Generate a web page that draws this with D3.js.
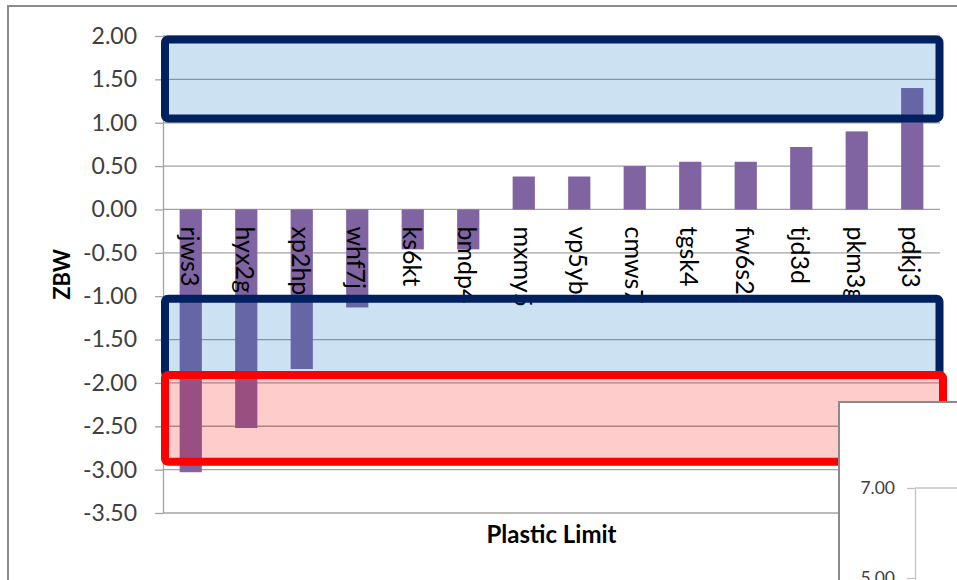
<!DOCTYPE html>
<html>
<head>
<meta charset="utf-8">
<script src="https://cdn.jsdelivr.net/npm/d3@7"></script>
<style>
  body { margin: 0; background: #fff; }
  svg { display: block; }
</style>
</head>
<body>
<svg id="chart" width="957" height="580"></svg>
<script>
// Samples along the x axis and their ZBW scores
const categories = ["rjws3", "hyx2g", "xp2hp", "whf7j", "ks6kt", "bmdp4", "mxmy5",
                    "vp5yb", "cmws7", "tgsk4", "fw6s2", "tjd3d", "pkm3g", "pdkj3"];
const zbwValues = [-3.03, -2.52, -1.84, -1.13, -0.46, -0.46, 0.38,
                   0.38, 0.50, 0.55, 0.55, 0.72, 0.90, 1.40];
const yTicks = [2, 1.5, 1, 0.5, 0, -0.5, -1, -1.5, -2, -2.5, -3, -3.5];

// Highlighted score ranges (low, high) and their kind
const bandLows = [1.05, -1.91, -2.91];
const bandHighs = [1.96, -1.03, -1.91];
const bandKinds = ["blue", "blue", "red"];

// Tick values of the second chart peeking in at the lower right
const insetTicks = [7, 5];

const svg = d3.select("#chart");
const FONT = "Lato, 'Open Sans', sans-serif";

const plot = { left: 163, right: 940, top: 36, bottom: 513 };

const x = d3.scaleBand()
  .domain(categories)
  .range([plot.left, plot.right])
  .paddingInner(0.6)
  .paddingOuter(0.3);

const y = d3.scaleLinear()
  .domain([-3.5, 2])
  .range([plot.bottom, plot.top]);

// Horizontal gridlines
svg.append("g")
  .selectAll("line")
  .data(yTicks)
  .join("line")
  .attr("x1", plot.left)
  .attr("x2", plot.right)
  .attr("y1", d => y(d))
  .attr("y2", d => y(d))
  .attr("stroke", "#a3a3a3")
  .attr("stroke-width", 1.3);

// Y axis
const yAxis = svg.append("g")
  .attr("transform", `translate(${plot.left},0)`)
  .call(d3.axisLeft(y)
    .tickValues(yTicks)
    .tickSize(8)
    .tickSizeOuter(0)
    .tickPadding(18)
    .tickFormat(d => d.toFixed(2)));
yAxis.select(".domain").attr("stroke", "#a3a3a3").attr("stroke-width", 1.3);
yAxis.selectAll(".tick line").attr("stroke", "#a3a3a3").attr("stroke-width", 1.3);
yAxis.selectAll(".tick text")
  .attr("font-family", FONT)
  .attr("font-size", 23)
  .attr("fill", "#404040");

// Bars
const data = categories.map((c, i) => ({ name: c, value: zbwValues[i] }));
svg.append("g")
  .selectAll("rect")
  .data(data)
  .join("rect")
  .attr("x", d => x(d.name))
  .attr("width", x.bandwidth())
  .attr("y", d => y(Math.max(0, d.value)))
  .attr("height", d => Math.abs(y(d.value) - y(0)))
  .attr("fill", "#8064a2");

// Category labels, rotated, just under the zero line
svg.append("g")
  .selectAll("text")
  .data(data)
  .join("text")
  .attr("transform", d => `translate(${x(d.name) + x.bandwidth() / 2},${y(0) + 17}) rotate(90)`)
  .attr("dominant-baseline", "central")
  .attr("font-family", FONT)
  .attr("font-size", 25)
  .attr("fill", "#000")
  .text(d => d.name);

// Highlight bands over the plot
const bandStyle = {
  blue: { fill: "#0070c0", stroke: "#002060", right: plot.right - 0.5 },
  red: { fill: "#ff0000", stroke: "#ff0000", right: plot.right + 3 }
};
const bands = bandLows.map((lo, i) => ({ lo, hi: bandHighs[i], kind: bandKinds[i] }));
const bandG = svg.append("g");
bandG.selectAll("rect.fill")
  .data(bands)
  .join("rect")
  .attr("class", "fill")
  .attr("x", plot.left + 2)
  .attr("y", d => y(d.hi))
  .attr("width", d => bandStyle[d.kind].right - plot.left - 2)
  .attr("height", d => y(d.lo) - y(d.hi))
  .attr("fill", d => bandStyle[d.kind].fill)
  .attr("fill-opacity", 0.2);
bandG.selectAll("rect.edge")
  .data(bands)
  .join("rect")
  .attr("class", "edge")
  .attr("x", plot.left + 2)
  .attr("y", d => y(d.hi))
  .attr("width", d => bandStyle[d.kind].right - plot.left - 2)
  .attr("height", d => y(d.lo) - y(d.hi))
  .attr("rx", 3)
  .attr("fill", "none")
  .attr("stroke", d => bandStyle[d.kind].stroke)
  .attr("stroke-width", 8)
  .attr("stroke-linejoin", "round");

// Axis titles
svg.append("text")
  .attr("transform", `translate(61,${(plot.top + plot.bottom) / 2}) rotate(-90)`)
  .attr("text-anchor", "middle")
  .attr("dominant-baseline", "central")
  .attr("font-family", FONT)
  .attr("font-weight", "bold")
  .attr("font-size", 22)
  .attr("fill", "#000")
  .text("ZBW");

svg.append("text")
  .attr("x", (plot.left + plot.right) / 2)
  .attr("y", 543)
  .attr("text-anchor", "middle")
  .attr("font-family", FONT)
  .attr("font-weight", "bold")
  .attr("font-size", 24)
  .attr("fill", "#000")
  .text("Plastic Limit");

// Second chart panel overlapping the lower right corner
const inset = svg.append("g");
inset.append("rect")
  .attr("x", 839)
  .attr("y", 402)
  .attr("width", 200)
  .attr("height", 250)
  .attr("fill", "#fff")
  .attr("stroke", "#8a8a8a")
  .attr("stroke-width", 2);

const insetY = d3.scaleLinear().domain([4, 7]).range([623, 488]);
inset.append("g")
  .selectAll("line")
  .data(insetTicks.slice(0, 1))
  .join("line")
  .attr("x1", 915)
  .attr("x2", 957)
  .attr("y1", d => insetY(d))
  .attr("y2", d => insetY(d))
  .attr("stroke", "#c4c4c4")
  .attr("stroke-width", 1.3);
const insetAxis = inset.append("g")
  .attr("transform", "translate(915,0)")
  .call(d3.axisLeft(insetY)
    .tickValues(insetTicks)
    .tickSize(8)
    .tickSizeOuter(0)
    .tickPadding(12)
    .tickFormat(d => d.toFixed(2)));
insetAxis.select(".domain").attr("stroke", "#c4c4c4").attr("stroke-width", 1.3);
insetAxis.selectAll(".tick line").attr("stroke", "#c4c4c4").attr("stroke-width", 1.3);
insetAxis.selectAll(".tick text")
  .attr("font-family", FONT)
  .attr("font-size", 17.5)
  .attr("fill", "#404040");

// Outer chart border
svg.append("path")
  .attr("d", "M8,580 V6 H957")
  .attr("fill", "none")
  .attr("stroke", "#8c8c8c")
  .attr("stroke-width", 2);
</script>
</body>
</html>
